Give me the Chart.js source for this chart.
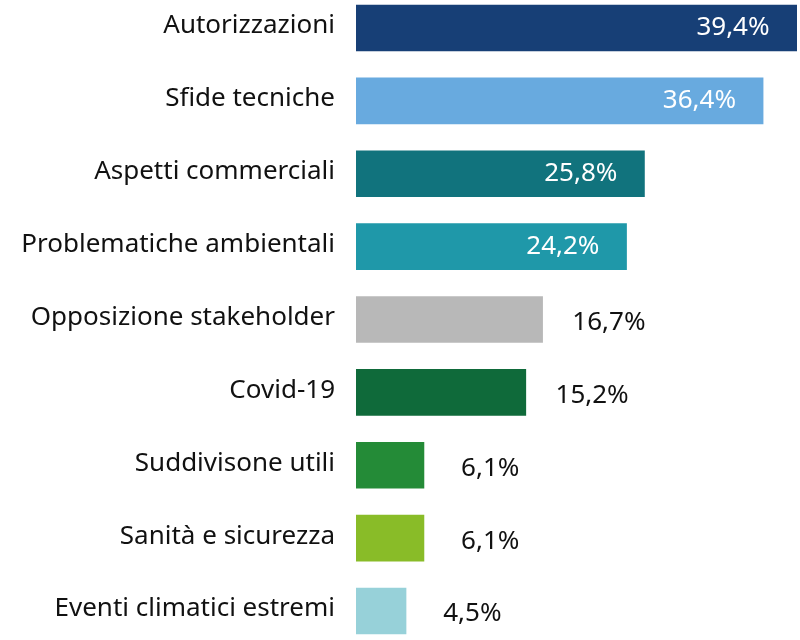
<!DOCTYPE html>
<html><head><meta charset="utf-8">
<script src="https://cdn.jsdelivr.net/npm/chart.js@4/dist/chart.umd.min.js"></script>
<style>
html,body{margin:0;padding:0;background:#fff;overflow:hidden;width:800px;height:640px;}
#wrap{position:absolute;left:0;top:-45px;width:800px;height:729px;}
</style></head>
<body><div id="wrap"><canvas id="c"></canvas></div>
<script>
const categories = ["Autorizzazioni","Sfide tecniche","Aspetti commerciali","Problematiche ambientali","Opposizione stakeholder","Covid-19","Suddivisone utili","Sanità e sicurezza","Eventi climatici estremi"];
const values = [39.4, 36.4, 25.8, 24.2, 16.7, 15.2, 6.1, 6.1, 4.5];
const barColors = ["#173f76","#68aadf","#11737d","#1f98a9","#b8b8b8","#0f6a3a","#248b37","#89bc28","#97d1d9"];
const FONT = "'Noto Sans', sans-serif";

const labelPlugin = {
  id: 'valueLabels',
  afterDatasetsDraw(chart) {
    const ctx = chart.ctx;
    const meta = chart.getDatasetMeta(0);
    ctx.save();
    ctx.font = "26px " + FONT;
    ctx.textAlign = 'center';
    ctx.textBaseline = 'middle';
    meta.data.forEach((bar, i) => {
      const v = values[i];
      const txt = v.toFixed(1).replace('.', ',') + '%';
      if (v > 20) {
        ctx.fillStyle = '#ffffff';
        ctx.fillText(txt, bar.x - 64, bar.y);
      } else {
        ctx.fillStyle = '#111111';
        ctx.fillText(txt, bar.x + 66, bar.y + 3);
      }
    });
    ctx.restore();
  }
};

new Chart(document.getElementById('c'), {
  type: 'bar',
  data: {
    labels: categories,
    datasets: [{
      data: values,
      backgroundColor: barColors,
      borderWidth: 0,
      categoryPercentage: 0.64,
      barPercentage: 1.0
    }]
  },
  options: {
    indexAxis: 'y',
    responsive: true,
    maintainAspectRatio: false,
    animation: false,
    layout: { padding: { left: 0, right: 3, top: 0, bottom: 0 } },
    plugins: { legend: { display: false }, tooltip: { enabled: false } },
    scales: {
      x: {
        display: false,
        min: 0,
        max: 39.4
      },
      y: {
        grid: { display: false, drawTicks: false },
        border: { display: false },
        ticks: {
          color: '#111111',
          font: { family: FONT, size: 26 },
          padding: 21,
          labelOffset: -2
        },
        afterFit(scale) { scale.width = 356; }
      }
    }
  },
  plugins: [labelPlugin]
});
</script></body></html>
